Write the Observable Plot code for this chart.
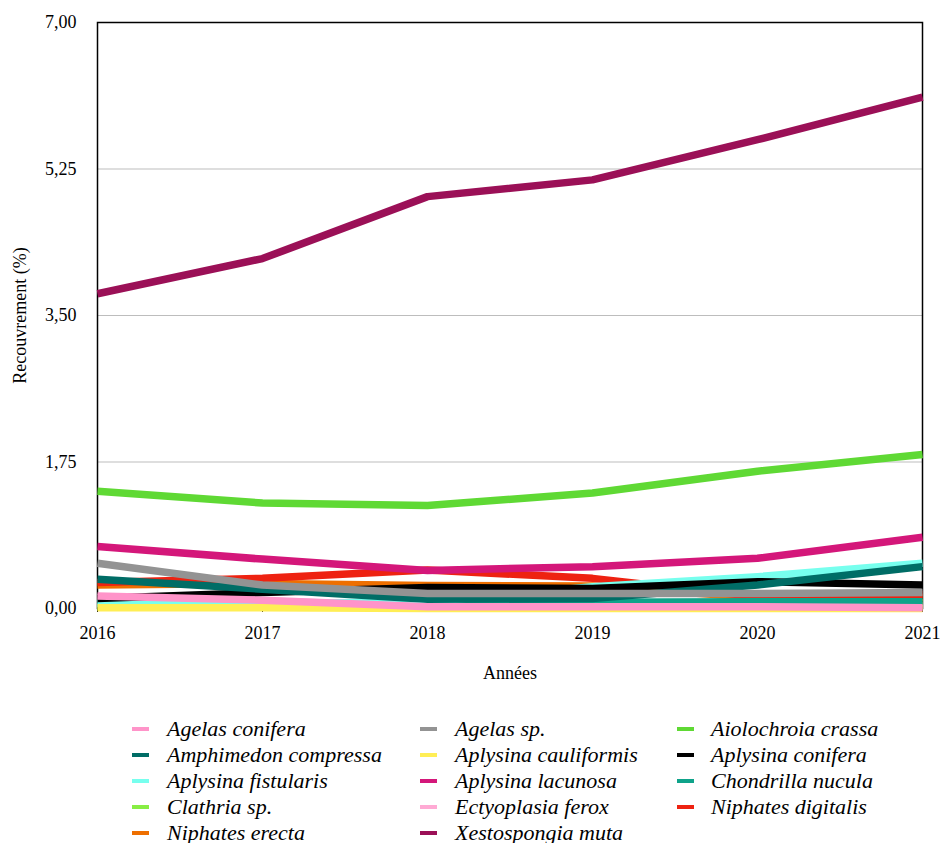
<!DOCTYPE html>
<html><head><meta charset="utf-8">
<script src="https://cdn.jsdelivr.net/npm/d3@7"></script>
<script src="https://cdn.jsdelivr.net/npm/@observablehq/plot@0.6"></script>
<style>
body{margin:0;background:#fff;font-family:"Liberation Serif","Tinos","Times New Roman","DejaVu Serif",serif;}
#legend{position:relative;width:943px;height:153px;overflow:hidden;}
.item{position:absolute;font-family:"Liberation Serif","Tinos","Times New Roman","DejaVu Serif",serif;font-style:italic;font-size:22px;color:#000;white-space:nowrap;line-height:24px;}
.sw{position:absolute;width:17px;height:4px;}
</style></head><body>
<div id="chart"></div>
<div id="legend"></div>
<script>
const years = [2016, 2017, 2018, 2019, 2020, 2021];
const species = ["Agelas conifera","Agelas sp.","Aiolochroia crassa","Amphimedon compressa","Aplysina cauliformis","Aplysina conifera","Aplysina fistularis","Aplysina lacunosa","Chondrilla nucula","Clathria sp.","Ectyoplasia ferox","Niphates digitalis","Niphates erecta","Xestospongia muta"];
const colors = ["#FF94C9","#939393","#5FD934","#006D66","#FFEE55","#000000","#77FFEE","#D4177A","#0FA38A","#88EE44","#FFAAD4","#EE2211","#EE6F00","#9B1057"];
const agelasConifera = [0.15, 0.10, 0.02, 0.02, 0.02, 0.01];
const agelasSp = [0.54, 0.28, 0.18, 0.18, 0.18, 0.19];
const aiolochroiaCrassa = [1.40, 1.26, 1.23, 1.38, 1.64, 1.84];
const amphimedonCompressa = [0.35, 0.23, 0.11, 0.12, 0.28, 0.50];
const aplysinaCauliformis = [0.01, 0.01, 0.00, 0.00, 0.00, 0.00];
const aplysinaConifera = [0.12, 0.19, 0.25, 0.24, 0.32, 0.28];
const aplysinaFistularis = [0.06, 0.06, 0.08, 0.26, 0.38, 0.54];
const aplysinaLacunosa = [0.74, 0.59, 0.455, 0.50, 0.60, 0.85];
const chondrillaNucula = [0.06, 0.06, 0.07, 0.075, 0.08, 0.08];
const clathriaSp = [0.02, 0.03, 0.07, 0.07, 0.07, 0.07];
const ectyoplasiaFerox = [0.13, 0.09, 0.03, 0.03, 0.03, 0.03];
const niphatesDigitalis = [0.31, 0.36, 0.46, 0.36, 0.14, 0.17];
const niphatesErecta = [0.28, 0.30, 0.275, 0.27, 0.13, 0.13];
const xestospongiaMuta = [3.76, 4.18, 4.92, 5.12, 5.60, 6.11];
const series = [agelasConifera, agelasSp, aiolochroiaCrassa, amphimedonCompressa, aplysinaCauliformis, aplysinaConifera, aplysinaFistularis, aplysinaLacunosa, chondrillaNucula, clathriaSp, ectyoplasiaFerox, niphatesDigitalis, niphatesErecta, xestospongiaMuta];
const yTicks = [0, 1.75, 3.5, 5.25, 7];

// drawn in reverse legend order (first species ends up on top)
const data = [];
for (let i = species.length - 1; i >= 0; i--) {
  years.forEach((y, j) => data.push({species: species[i], year: y, value: series[i][j]}));
}

const fmt = d => d.toFixed(2).replace(".", ",");
const serif = "'Liberation Serif', 'Tinos', 'Times New Roman', 'DejaVu Serif', serif";

const chart = Plot.plot({
  width: 943, height: 690,
  marginLeft: 97, marginRight: 21, marginTop: 22, marginBottom: 82,
  style: {fontFamily: serif, fontSize: "18px", color: "#000", background: "#fff"},
  x: {domain: [2016, 2021], ticks: years, tickFormat: d => String(d), tickSize: 4, tickPadding: 14,
      label: "Années", labelAnchor: "center", labelOffset: 70, labelArrow: "none"},
  y: {domain: [0, 7], ticks: yTicks, tickFormat: fmt, tickSize: 0, tickPadding: 21,
      label: "Recouvrement (%)", labelAnchor: "center", labelOffset: 84, labelArrow: "none"},
  color: {domain: species, range: colors},
  marks: [
    Plot.gridY(yTicks.slice(1, -1), {stroke: "#bdbdbd", strokeOpacity: 1, strokeWidth: 1}),
    Plot.frame({stroke: "#000", strokeWidth: 1.5}),
    Plot.line(data, {x: "year", y: "value", z: "species", stroke: "species", strokeWidth: 7.5, strokeLinecap: "butt", strokeLinejoin: "round"})
  ]
});
chart.querySelectorAll("text").forEach(t => t.style.fontFamily = serif);
document.getElementById("chart").appendChild(chart);

const leg = document.getElementById("legend");
const colX = [132, 420, 677];
const textX = [167, 455, 711];
const rowY = [39, 65, 91, 117, 143];
species.forEach((s, i) => {
  const c = i % 3, r = Math.floor(i / 3);
  const sw = document.createElement("div");
  sw.className = "sw";
  sw.style.left = colX[c] + "px";
  sw.style.top = (rowY[r] - 2) + "px";
  sw.style.background = colors[i];
  leg.appendChild(sw);
  const t = document.createElement("div");
  t.className = "item";
  t.style.left = textX[c] + "px";
  t.style.top = (rowY[r] - 12) + "px";
  t.textContent = s;
  leg.appendChild(t);
});
</script>
</body></html>
